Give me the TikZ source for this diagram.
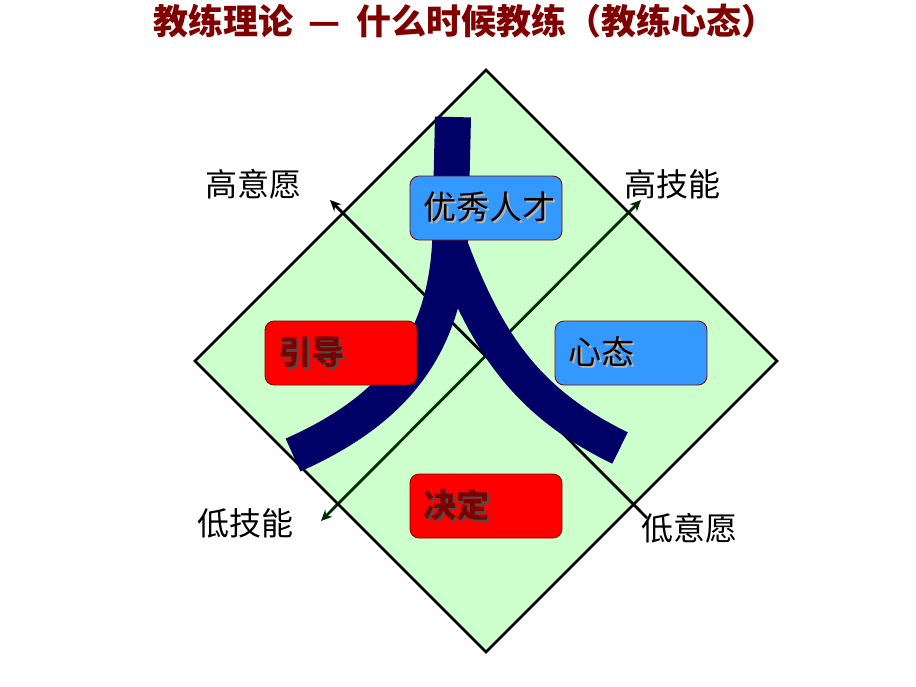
\documentclass[tikz,border=0pt]{standalone}
\usepackage{fontspec}
\setmainfont{Noto Sans CJK SC}
\usetikzlibrary{arrows.meta}
\definecolor{titlered}{HTML}{800000}
\definecolor{diamondfill}{HTML}{CCFFCC}
\definecolor{navystroke}{HTML}{000066}
\definecolor{boxblue}{HTML}{3399FF}
\definecolor{boxred}{HTML}{FF0000}
\definecolor{boxedge}{HTML}{800000}
\definecolor{redtext}{HTML}{7A0000}
\definecolor{axisgreen}{HTML}{002A00}
\newcommand\shadowtext[3]{\rlap{\kern2pt\raisebox{-2pt}{\textcolor{#1}{#3}}}\textcolor{#2}{#3}}
\begin{document}
\begin{tikzpicture}[x=1pt,y=-1pt,
  lbl/.style={font=\fontsize{32}{32}\selectfont, inner sep=0pt},
  qbox/.style={draw=boxedge, line width=0.8pt, rounded corners=9pt,
    minimum width=152pt, minimum height=64pt, inner sep=0pt},
  boxtext/.style={anchor=west, inner sep=0pt, font=\fontsize{33}{33}\selectfont},
  axisln/.style={line width=2.8pt},
  onetip/.style={-{Stealth[length=11pt,width=10pt]}},
  twotips/.style={{Stealth[length=11pt,width=10pt]}-{Stealth[length=11pt,width=10pt]}},
  stroke/.style={draw=navystroke, line cap=butt}
]
\useasboundingbox (0,0) rectangle (916,686);
\fill[white] (0,0) rectangle (916,686);

% title
\node[inner sep=0pt, text=titlered, font=\fontsize{35}{35}\selectfont\bfseries] (title) at (465,21)
  {教练理论\hspace{0.45em}—\hspace{0.45em}什么时候教练（教练心态）};

% diamond
\coordinate (dtop) at (486,70);
\coordinate (dright) at (777,361);
\coordinate (dbottom) at (486,652);
\coordinate (dleft) at (195,361);
\fill[diamondfill] (dtop) -- (dright) -- (dbottom) -- (dleft) -- cycle;

% axes
\coordinate (ul) at (330,200);
\coordinate (lr) at (647,518);
\coordinate (ur) at (641,200);
\coordinate (ll) at (321,521);
\draw[axisln, onetip, draw=black] (lr) -- (ul);
\draw[axisln, twotips, draw=axisgreen] (ll) -- (ur);

\draw[line width=2.6pt, line join=miter] (dtop) -- (dright) -- (dbottom) -- (dleft) -- cycle;

% the character "ren"
\draw[stroke, line width=36pt] (453,117) -- (450,245) .. controls (444,350) and (390,412) .. (293,455);
\draw[stroke, line width=35pt] (452,250) .. controls (490,350) and (532,405) .. (620,448);

% axis labels
\node[lbl] (hw) at (253,184) {高意愿};
\node[lbl] (hs) at (672,184) {高技能};
\node[lbl] (ls) at (245,523) {低技能};
\node[lbl] (lw) at (689,528) {低意愿};

% boxes
\node[qbox, fill=boxblue] (talent) at (486,208) {};
\node[qbox, fill=boxred] (guide) at (341,353) {};
\node[qbox, fill=boxblue] (mind) at (631,353) {};
\node[qbox, fill=boxred] (decide) at (486,506) {};

\node[boxtext] (talentt) at ([xshift=14pt]talent.west) {\shadowtext{gray!60}{black}{优秀人才}};
\node[boxtext] (guidet) at ([xshift=14pt]guide.west) {\bfseries\shadowtext{black!70}{redtext}{引导}};
\node[boxtext] (mindt) at ([xshift=14pt]mind.west) {\shadowtext{gray!60}{black}{心态}};
\node[boxtext] (decidet) at ([xshift=14pt]decide.west) {\bfseries\shadowtext{black!70}{redtext}{决定}};
\end{tikzpicture}
\end{document}
